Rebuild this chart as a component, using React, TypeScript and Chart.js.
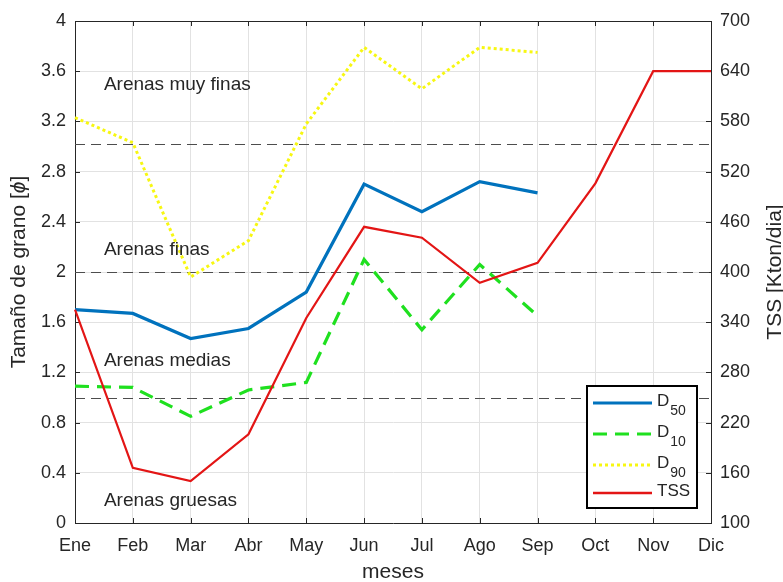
import React, { useEffect, useRef } from "react";
import { Chart, registerables } from "chart.js";

Chart.register(...registerables);

// Monthly grain-size percentiles (phi units) and suspended sediment load
const months = ["Ene", "Feb", "Mar", "Abr", "May", "Jun", "Jul", "Ago", "Sep", "Oct", "Nov", "Dic"];
const d50 = [1.7, 1.67, 1.47, 1.55, 1.84, 2.7, 2.48, 2.72, 2.63, null, null, null];
const d10 = [1.09, 1.08, 0.85, 1.06, 1.12, 2.1, 1.54, 2.06, 1.65, null, null, null];
const d90 = [3.23, 3.03, 1.96, 2.25, 3.18, 3.79, 3.46, 3.79, 3.75, null, null, null];
const tss = [355, 166, 150, 206, 345, 454, 441, 387, 411, 506, 640, 640];

const leftTicks = [0, 0.4, 0.8, 1.2, 1.6, 2, 2.4, 2.8, 3.2, 3.6, 4];
const rightTicks = [100, 160, 220, 280, 340, 400, 460, 520, 580, 640, 700];

// Sand class boundaries and the class names placed between them
const classLimits = [1, 2, 3.02];
const classLabels = ["Arenas gruesas", "Arenas medias", "Arenas finas", "Arenas muy finas"];
const classLabelLevels = [0.18, 1.29, 2.18, 3.49];

const legendLabels = [
  { main: "D", sub: "50" },
  { main: "D", sub: "10" },
  { main: "D", sub: "90" },
  { main: "TSS", sub: "" },
];

const FONT = "'Liberation Sans', Arial, Helvetica, sans-serif";
const TEXT = "#262626";
const AXIS = "#262626";
const GRID = "#e2e2e2";

const BLUE = "#0072bd";
const GREEN = "#1fe01f";
const YELLOW = "#f7f712";
const RED = "#e31515";

const GREEN_DASH = [14, 8];
const YELLOW_DASH = [3, 3];

const decorPlugin = {
  id: "decor",
  beforeDatasetsDraw(chart: any) {
    const { ctx, chartArea } = chart;
    const { left, right, top, bottom } = chartArea;
    const x = chart.scales.x;
    const y = chart.scales.y;
    const y2 = chart.scales.y2;
    ctx.save();
    // top frame line
    ctx.strokeStyle = AXIS;
    ctx.lineWidth = 1;
    ctx.beginPath();
    ctx.moveTo(left, Math.round(top) + 0.5);
    ctx.lineTo(right, Math.round(top) + 0.5);
    ctx.stroke();
    // inward tick marks
    ctx.beginPath();
    months.forEach((_, i) => {
      const px = Math.round(x.getPixelForValue(i)) + 0.5;
      ctx.moveTo(px, bottom);
      ctx.lineTo(px, bottom - 5);
      ctx.moveTo(px, top);
      ctx.lineTo(px, top + 5);
    });
    leftTicks.forEach((v) => {
      const py = Math.round(y.getPixelForValue(v)) + 0.5;
      ctx.moveTo(left, py);
      ctx.lineTo(left + 5, py);
    });
    rightTicks.forEach((v) => {
      const py = Math.round(y2.getPixelForValue(v)) + 0.5;
      ctx.moveTo(right, py);
      ctx.lineTo(right - 5, py);
    });
    ctx.stroke();
    // class boundaries
    ctx.strokeStyle = "#4d4d4d";
    ctx.lineWidth = 1.2;
    ctx.setLineDash([10, 6]);
    classLimits.forEach((v) => {
      const py = Math.round(y.getPixelForValue(v)) + 0.5;
      ctx.beginPath();
      ctx.moveTo(left, py);
      ctx.lineTo(right, py);
      ctx.stroke();
    });
    ctx.restore();
  },
  afterDatasetsDraw(chart: any) {
    const { ctx, chartArea } = chart;
    const x = chart.scales.x;
    const y = chart.scales.y;
    const midY = (chartArea.top + chartArea.bottom) / 2;
    ctx.save();
    ctx.fillStyle = TEXT;
    ctx.font = `19px ${FONT}`;
    ctx.textAlign = "left";
    ctx.textBaseline = "middle";
    const tx = (x.getPixelForValue(0) + x.getPixelForValue(1)) / 2;
    classLabels.forEach((t, i) => {
      ctx.fillText(t, tx, y.getPixelForValue(classLabelLevels[i]));
    });

    // left axis title with an italic phi, reading bottom to top
    const parts = [
      { t: "Tamaño de grano [", f: `21px ${FONT}` },
      { t: "ϕ", f: `italic 21px ${FONT}` },
      { t: "]", f: `21px ${FONT}` },
    ];
    let total = 0;
    parts.forEach((p) => {
      ctx.font = p.f;
      total += ctx.measureText(p.t).width;
    });
    ctx.save();
    ctx.translate(19, midY);
    ctx.rotate(-Math.PI / 2);
    let cx = -total / 2;
    parts.forEach((p) => {
      ctx.font = p.f;
      ctx.fillText(p.t, cx, 0);
      cx += ctx.measureText(p.t).width;
    });
    ctx.restore();

    // right axis title, reading bottom to top
    ctx.font = `21px ${FONT}`;
    ctx.textAlign = "center";
    ctx.translate(775, midY);
    ctx.rotate(-Math.PI / 2);
    ctx.fillText("TSS [Kton/dia]", 0, 0);
    ctx.restore();
  },
  afterDraw(chart: any) {
    const { ctx, chartArea } = chart;
    const w = 110;
    const h = 122;
    const bx = chartArea.right - 14 - w;
    const by = chartArea.bottom - 15 - h;
    ctx.save();
    ctx.fillStyle = "#ffffff";
    ctx.fillRect(bx, by, w, h);
    ctx.strokeStyle = "#000000";
    ctx.lineWidth = 2;
    ctx.strokeRect(bx, by, w, h);
    const styles = [
      { color: BLUE, width: 3, dash: [] as number[] },
      { color: GREEN, width: 3, dash: GREEN_DASH },
      { color: YELLOW, width: 3, dash: YELLOW_DASH },
      { color: RED, width: 2.5, dash: [] as number[] },
    ];
    const rows = [17, 48, 79, 107];
    styles.forEach((s, i) => {
      const ly = by + rows[i];
      ctx.strokeStyle = s.color;
      ctx.lineWidth = s.width;
      ctx.setLineDash(s.dash);
      ctx.beginPath();
      ctx.moveTo(bx + 6, ly);
      ctx.lineTo(bx + 65, ly);
      ctx.stroke();
      ctx.setLineDash([]);
      const lab = legendLabels[i];
      ctx.fillStyle = TEXT;
      ctx.textAlign = "left";
      ctx.textBaseline = "middle";
      ctx.font = `17px ${FONT}`;
      const tx = bx + 70;
      ctx.fillText(lab.main, tx, ly - 2);
      if (lab.sub) {
        const mw = ctx.measureText(lab.main).width;
        ctx.font = `14px ${FONT}`;
        ctx.fillText(lab.sub, tx + mw + 1, ly + 8);
      }
    });
    ctx.restore();
  },
};

export default function App() {
  const ref = useRef<HTMLCanvasElement | null>(null);

  useEffect(() => {
    document.body.style.margin = "0";
    const canvas = ref.current;
    if (!canvas) return;
    Chart.defaults.font.family = FONT;

    const chart = new Chart(canvas, {
      type: "line",
      data: {
        labels: months,
        datasets: [
          {
            label: "TSS",
            data: tss,
            yAxisID: "y2",
            borderColor: RED,
            borderWidth: 2.2,
            pointRadius: 0,
            tension: 0,
            order: 0,
          },
          {
            label: "D50",
            data: d50,
            yAxisID: "y",
            borderColor: BLUE,
            borderWidth: 3.2,
            pointRadius: 0,
            tension: 0,
            order: 1,
          },
          {
            label: "D10",
            data: d10,
            yAxisID: "y",
            borderColor: GREEN,
            borderWidth: 3.2,
            borderDash: GREEN_DASH,
            pointRadius: 0,
            tension: 0,
            order: 2,
          },
          {
            label: "D90",
            data: d90,
            yAxisID: "y",
            borderColor: YELLOW,
            borderWidth: 3,
            borderDash: YELLOW_DASH,
            pointRadius: 0,
            tension: 0,
            order: 3,
          },
        ],
      },
      options: {
        responsive: false,
        animation: false,
        events: [],
        layout: { padding: { top: 21, left: 0, right: 0, bottom: 0 } },
        plugins: {
          legend: { display: false },
          tooltip: { enabled: false },
        },
        scales: {
          x: {
            type: "category",
            offset: false,
            grid: { color: GRID, drawTicks: false, lineWidth: 1 },
            border: { display: true, color: AXIS, width: 1 },
            ticks: {
              font: { size: 18, family: FONT },
              color: TEXT,
              padding: 12,
              autoSkip: false,
              maxRotation: 0,
            },
            title: {
              display: true,
              text: "meses",
              color: TEXT,
              font: { size: 21, family: FONT, lineHeight: 1 },
              padding: { top: 0, bottom: -1 },
            },
            afterFit: (s: any) => {
              s.height = 59;
            },
          },
          y: {
            position: "left",
            min: 0,
            max: 4,
            afterBuildTicks: (s: any) => {
              s.ticks = leftTicks.map((v) => ({ value: v }));
            },
            grid: { color: GRID, drawTicks: false, lineWidth: 1 },
            border: { display: true, color: AXIS, width: 1 },
            ticks: {
              font: { size: 18, family: FONT },
              color: TEXT,
              padding: 9,
              callback: (v: any) => String(v),
            },
            afterFit: (s: any) => {
              s.width = 75;
            },
          },
          y2: {
            position: "right",
            min: 100,
            max: 700,
            afterBuildTicks: (s: any) => {
              s.ticks = rightTicks.map((v) => ({ value: v }));
            },
            grid: { display: false, drawTicks: false },
            border: { display: true, color: AXIS, width: 1 },
            ticks: {
              font: { size: 18, family: FONT },
              color: TEXT,
              padding: 9,
              callback: (v: any) => String(v),
            },
            afterFit: (s: any) => {
              s.width = 72;
            },
          },
        },
      },
      plugins: [decorPlugin],
    } as any);

    return () => chart.destroy();
  }, []);

  return <canvas ref={ref} width={783} height={582} style={{ display: "block" }} />;
}
